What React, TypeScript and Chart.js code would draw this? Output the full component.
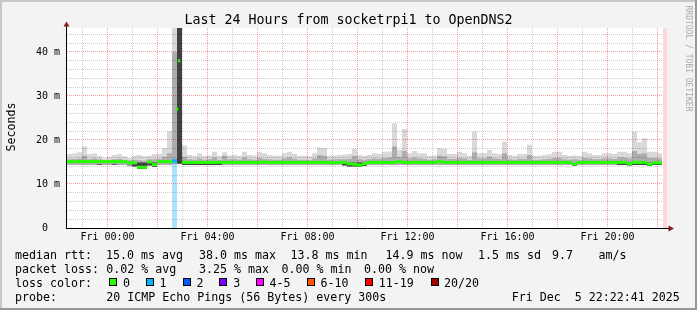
import React, { useEffect, useRef } from 'react';
import { Chart, registerables } from 'chart.js';

Chart.register(...registerables);

// ---- time axis (hours relative to Fri 00:00) ----
const START_HOUR = -1.6219; // Thu 22:22:41
const END_HOUR = 22.3781; // Fri 22:22:41
const STEP_HOURS = 0.2; // consolidated interval length
const NO_DATA_FROM_HOUR = 22.21;
const Y_MAX_MS = 45.45;

// ---- series (ms), one value per interval ----
const medianMs: (number | null)[] = [
  15.1, 15.1, 15.1, 15.1, 15.1, 15.1, 15.1, 15.1, 15.1, 15.1,
  15.1, 15.1, 14.8, 14.8, 13.8, 13.8, 15.0, 14.4, 15.1, 15.1,
  15.1, 15.3, null, 14.9, 14.9, 14.9, 14.9, 14.9, 14.9, 14.9,
  14.9, 14.9, 14.9, 14.9, 14.9, 14.9, 14.9, 14.9, 14.9, 15.0,
  14.9, 14.9, 14.9, 14.9, 14.9, 14.9, 14.9, 14.9, 14.9, 14.9,
  14.9, 14.9, 14.9, 14.8, 14.9, 14.9, 14.6, 14.5, 14.3, 14.6,
  14.9, 14.9, 14.9, 14.9, 14.9, 14.9, 15.1, 14.9, 14.9, 14.9,
  14.9, 14.9, 14.9, 14.9, 15.1, 14.9, 14.9, 14.9, 14.9, 14.9,
  14.9, 14.9, 14.9, 14.9, 14.9, 14.9, 14.9, 14.9, 14.9, 14.9,
  14.9, 14.9, 14.9, 14.9, 14.9, 14.9, 14.9, 14.9, 14.9, 14.9,
  14.9, 14.5, 14.9, 14.9, 14.9, 14.9, 14.9, 14.9, 14.9, 14.9,
  14.9, 14.9, 14.6, 14.9, 14.9, 14.9, 14.5, 14.8, 14.8,
];

const smokeLoMs = [
  14.3, 14.3, 14.3, 14.3, 14.3, 14.3, 14.3, 14.3, 14.3, 14.3,
  14.3, 14.3, 14.2, 14.0, 13.4, 13.4, 14.2, 13.9, 14.3, 14.3,
  14.3, 14.5, 14.6, 14.3, 14.3, 14.3, 14.3, 14.3, 14.3, 14.3,
  14.3, 14.3, 14.3, 14.3, 14.3, 14.3, 14.3, 14.3, 14.3, 14.3,
  14.3, 14.3, 14.3, 14.3, 14.3, 14.3, 14.3, 14.3, 14.3, 14.3,
  14.3, 14.3, 14.3, 14.3, 14.3, 14.2, 14.0, 14.0, 13.9, 14.1,
  14.3, 14.3, 14.3, 14.3, 14.3, 14.3, 14.3, 14.3, 14.3, 14.3,
  14.3, 14.3, 14.3, 14.3, 14.3, 14.3, 14.3, 14.3, 14.3, 14.3,
  14.3, 14.3, 14.3, 14.3, 14.3, 14.3, 14.3, 14.3, 14.3, 14.3,
  14.3, 14.3, 14.3, 14.3, 14.3, 14.3, 14.3, 14.3, 14.3, 14.3,
  14.3, 14.1, 14.3, 14.3, 14.3, 14.3, 14.3, 14.3, 14.3, 14.3,
  14.3, 14.3, 14.2, 14.3, 14.3, 14.3, 14.1, 14.3, 14.3,
];

const smokeDarkMs = [
  14.3, 14.3, 14.3, 14.3, 14.3, 14.3, 14.5, 14.3, 14.3, 14.5,
  14.3, 14.3, 14.3, 14.9, 14.9, 14.9, 14.9, 14.9, 14.3, 14.3,
  14.3, 14.5, 46.0, 14.8, 14.8, 14.8, 14.8, 14.8, 14.8, 14.8,
  14.8, 14.3, 14.3, 14.3, 14.3, 14.3, 14.3, 14.3, 14.3, 14.3,
  14.3, 14.3, 14.3, 14.3, 14.3, 14.3, 14.3, 14.3, 14.3, 14.3,
  14.3, 14.3, 14.3, 14.3, 14.3, 14.8, 14.9, 14.9, 14.9, 14.8,
  14.3, 14.3, 14.3, 14.3, 14.3, 14.3, 14.3, 14.3, 14.3, 14.3,
  14.3, 14.3, 14.3, 14.3, 14.3, 14.3, 14.3, 14.3, 14.3, 14.3,
  14.3, 14.3, 14.3, 14.3, 14.3, 14.3, 14.3, 14.3, 14.3, 14.3,
  14.3, 14.3, 14.3, 14.3, 14.3, 14.3, 14.3, 14.3, 14.3, 14.3,
  14.3, 14.6, 14.3, 14.3, 14.3, 14.3, 14.3, 14.3, 14.3, 14.3,
  14.8, 14.8, 14.8, 14.8, 14.8, 14.8, 14.8, 14.8, 14.8,
];

const smokeMidMs = [
  15.6, 15.7, 15.8, 16.4, 15.6, 15.8, 15.6, 15.4, 15.5, 15.6,
  15.7, 15.5, 15.4, 15.5, 15.4, 15.3, 15.6, 15.6, 15.7, 16.2,
  17.0, 40.0, 46.0, 16.2, 15.6, 15.5, 15.8, 15.5, 15.6, 16.0,
  15.5, 16.4, 15.6, 15.6, 15.5, 16.0, 15.6, 15.5, 15.9, 15.7,
  15.6, 15.5, 15.5, 15.8, 16.0, 15.7, 15.5, 15.5, 15.4, 15.8,
  16.6, 16.4, 15.5, 15.6, 15.6, 15.6, 15.7, 16.4, 15.6, 15.5,
  15.6, 15.8, 15.7, 15.9, 16.0, 18.5, 16.2, 17.5, 15.8, 16.0,
  15.8, 15.7, 15.5, 15.6, 16.5, 16.3, 15.7, 15.7, 15.9, 15.8,
  15.5, 17.2, 15.8, 15.8, 16.2, 15.8, 15.7, 17.0, 15.6, 15.5,
  15.7, 15.7, 16.6, 15.5, 15.5, 15.6, 15.7, 15.9, 15.9, 15.6,
  15.5, 15.6, 15.5, 15.9, 15.8, 15.6, 15.6, 15.8, 15.8, 15.7,
  16.0, 16.0, 15.8, 17.5, 16.8, 17.0, 15.9, 15.9, 15.8,
];

const smokeHiMs = [
  16.8, 17.0, 17.2, 18.6, 16.8, 17.0, 16.4, 15.9, 16.2, 16.6,
  16.8, 16.3, 15.9, 16.4, 16.6, 16.3, 16.4, 16.8, 16.9, 18.2,
  22.0, 46.0, 46.0, 18.8, 16.6, 16.4, 17.0, 16.4, 16.5, 17.3,
  16.4, 17.2, 16.5, 16.6, 16.4, 17.3, 16.6, 16.5, 17.3, 17.0,
  16.6, 16.4, 16.4, 17.0, 17.3, 16.8, 16.4, 16.4, 16.3, 17.0,
  18.3, 18.2, 16.4, 16.5, 16.6, 16.7, 16.8, 18.0, 16.6, 16.4,
  16.6, 17.0, 16.9, 17.3, 17.4, 23.8, 17.7, 22.5, 17.0, 17.5,
  17.0, 17.0, 16.4, 16.5, 18.1, 18.0, 16.8, 16.8, 17.3, 17.0,
  16.4, 21.9, 17.0, 17.0, 17.7, 17.0, 16.8, 19.6, 16.6, 16.4,
  16.8, 16.8, 18.9, 16.4, 16.4, 16.6, 16.8, 17.3, 17.3, 16.6,
  16.4, 16.5, 16.4, 17.3, 17.0, 16.6, 16.6, 17.0, 17.0, 16.8,
  17.3, 17.3, 17.0, 21.9, 19.5, 20.4, 17.3, 17.3, 17.0,
];

// intervals with packet loss (index into the series) and their loss class
const lossIntervalIdx = [21];
const lossIntervalClass = [1];

// 5-minute medians inside the spike interval
const spikeHours = [2.78, 2.86];
const spikeMs = [27, 38];

// ---- axes ----
const xGridHours = [-1, 0, 1, 2, 3, 4, 5, 6, 7, 8, 9, 10, 11, 12, 13, 14, 15, 16, 17, 18, 19, 20, 21, 22];
const xLabelHours = [0, 4, 8, 12, 16, 20];
const xLabels = ['Fri 00:00', 'Fri 04:00', 'Fri 08:00', 'Fri 12:00', 'Fri 16:00', 'Fri 20:00'];
const yGridMs = [0, 2, 4, 6, 8, 10, 12, 14, 16, 18, 20, 22, 24, 26, 28, 30, 32, 34, 36, 38, 40, 42, 44];
const yLabelMs = [0, 10, 20, 30, 40];
const yLabels = ['0  ', '10 m', '20 m', '30 m', '40 m'];

// ---- legend ----
const titleText = 'Last 24 Hours from socketrpi1 to OpenDNS2';
const yTitle = 'Seconds';
const watermark = 'RRDTOOL / TOBI OETIKER';
const rowLabels = ['median rtt:', 'packet loss:', 'loss color:', 'probe:'];
const rttStats = ['15.0 ms avg', '38.0 ms max', '13.8 ms min', '14.9 ms now', '1.5 ms sd', '9.7', 'am/s'];
const lossStats = ['0.02 % avg', '3.25 % max', '0.00 % min', '0.00 % now'];
const lossColorLabels = ['0', '1', '2', '3', '4-5', '6-10', '11-19', '20/20'];
const lossColors = ['#26ff00', '#00b8ff', '#0059ff', '#7e00ff', '#ff00ff', '#ff5500', '#ff0000', '#a10000'];
const probeText = '20 ICMP Echo Pings (56 Bytes) every 300s';
const stampText = 'Fri Dec  5 22:22:41 2025';

const MONO = '"DejaVu Sans Mono", monospace';

const intervalStart = (j: number) => START_HOUR + j * STEP_HOURS;

function stepSeries(values: number[]) {
  const pts = values.map((v, j) => ({ x: intervalStart(j), y: v }));
  pts.push({ x: intervalStart(values.length), y: values[values.length - 1] });
  return pts;
}

function lossClassAt(j: number) {
  const k = lossIntervalIdx.indexOf(j);
  return k >= 0 ? lossIntervalClass[k] : 0;
}

const decorPlugin = {
  id: 'rrdDecor',
  beforeDraw(chart: any) {
    const { ctx, width, height, chartArea } = chart;
    ctx.save();
    ctx.fillStyle = '#f3f3f3';
    ctx.fillRect(0, 0, width, height);
    ctx.fillStyle = '#ffffff';
    ctx.fillRect(chartArea.left, chartArea.top, chartArea.right - chartArea.left, chartArea.bottom - chartArea.top);
    ctx.fillStyle = '#c8c8c8';
    ctx.fillRect(0, 0, width, 2);
    ctx.fillRect(0, 0, 2, height);
    ctx.fillStyle = '#969696';
    ctx.fillRect(0, height - 2, width, 2);
    ctx.fillRect(width - 2, 0, 2, height);
    ctx.restore();
  },
  afterDatasetsDraw(chart: any) {
    const { ctx, chartArea } = chart;
    const { left, top, right, bottom } = chartArea;
    ctx.save();
    ctx.strokeStyle = '#000000';
    ctx.lineWidth = 1;
    ctx.beginPath();
    ctx.moveTo(left - 0.5, bottom + 1);
    ctx.lineTo(left - 0.5, top - 3);
    ctx.moveTo(left - 1, bottom + 0.5);
    ctx.lineTo(right + 2, bottom + 0.5);
    ctx.stroke();
    ctx.fillStyle = '#8b1a1a';
    ctx.beginPath();
    ctx.moveTo(left - 3.5, top - 1.5);
    ctx.lineTo(left + 2.5, top - 1.5);
    ctx.lineTo(left - 0.5, top - 6.5);
    ctx.closePath();
    ctx.fill();
    ctx.beginPath();
    ctx.moveTo(right + 1.5, bottom - 2.5);
    ctx.lineTo(right + 1.5, bottom + 3.5);
    ctx.lineTo(right + 7, bottom + 0.5);
    ctx.closePath();
    ctx.fill();
    ctx.restore();
  },
  afterDraw(chart: any) {
    const { ctx } = chart;
    ctx.save();
    ctx.fillStyle = '#000000';
    ctx.textBaseline = 'alphabetic';

    // title
    ctx.font = `13.3px ${MONO}`;
    ctx.textAlign = 'center';
    ctx.fillText(titleText, 348.5, 24);

    // y title
    ctx.save();
    ctx.font = `11.63px ${MONO}`;
    ctx.translate(15.3, 127);
    ctx.rotate(-Math.PI / 2);
    ctx.fillText(yTitle, 0, 0);
    ctx.restore();

    // watermark
    ctx.save();
    ctx.fillStyle = '#a8a8a8';
    ctx.font = `8px ${MONO}`;
    ctx.translate(686, 58.5);
    ctx.rotate(Math.PI / 2);
    ctx.fillText(watermark, 0, 0);
    ctx.restore();

    // legend
    ctx.textAlign = 'left';
    ctx.font = `11.63px ${MONO}`;
    const rows = [259, 273, 287, 301];
    rowLabels.forEach((t, i) => ctx.fillText(t, 15, rows[i]));
    const rttX = [106, 198.9, 290.4, 385.4, 478, 552, 598.5];
    rttStats.forEach((t, i) => ctx.fillText(t, rttX[i], rows[0]));
    const lossX = [106.2, 198.9, 281.5, 363.9];
    lossStats.forEach((t, i) => ctx.fillText(t, lossX[i], rows[1]));
    const swX = [109, 146, 183, 219, 256, 307, 365, 431];
    const swLabelX = [122.9, 159.4, 196.6, 233.2, 269.6, 320.6, 378.7, 443.9];
    lossColorLabels.forEach((t, i) => {
      ctx.fillStyle = lossColors[i];
      ctx.fillRect(swX[i], 278, 8, 8);
      ctx.strokeStyle = '#000000';
      ctx.lineWidth = 1;
      ctx.strokeRect(swX[i] + 0.5, 278.5, 7, 7);
      ctx.fillStyle = '#000000';
      ctx.fillText(t, swLabelX[i], rows[2]);
    });
    ctx.fillText(probeText, 106.2, rows[3]);
    ctx.fillText(stampText, 511.7, rows[3]);
    ctx.restore();
  },
};

export default function App() {
  const ref = useRef<HTMLCanvasElement | null>(null);

  useEffect(() => {
    const canvas = ref.current;
    if (!canvas) return;

    const medianPoints = medianMs.map((v, j) => ({ x: intervalStart(j) + STEP_HOURS / 2, y: v }));
    const lossBars = lossIntervalIdx.map((j) => ({
      type: 'line' as const,
      data: [
        { x: intervalStart(j), y: medianMs[j] as number },
        { x: intervalStart(j + 1), y: medianMs[j] as number },
      ],
      fill: 'origin',
      backgroundColor: 'rgba(0,170,250,0.33)',
      borderWidth: 0,
      borderColor: 'transparent',
      pointRadius: 0,
      order: 5,
    }));

    const chart = new Chart(canvas, {
      type: 'line',
      data: {
        datasets: [
          {
            data: stepSeries(smokeLoMs),
            stepped: true,
            borderWidth: 0,
            borderColor: 'transparent',
            pointRadius: 0,
            fill: false,
            order: 9,
          },
          {
            data: stepSeries(smokeHiMs),
            stepped: true,
            borderWidth: 0,
            borderColor: 'transparent',
            pointRadius: 0,
            fill: 0,
            backgroundColor: 'rgba(0,0,0,0.15)',
            order: 8,
          },
          {
            data: stepSeries(smokeMidMs),
            stepped: true,
            borderWidth: 0,
            borderColor: 'transparent',
            pointRadius: 0,
            fill: 0,
            backgroundColor: 'rgba(0,0,0,0.2)',
            order: 7,
          },
          {
            data: stepSeries(smokeDarkMs),
            stepped: true,
            borderWidth: 0,
            borderColor: 'transparent',
            pointRadius: 0,
            fill: 0,
            backgroundColor: 'rgba(0,0,0,0.62)',
            order: 6,
          },
          {
            data: [
              { x: NO_DATA_FROM_HOUR, y: Y_MAX_MS },
              { x: END_HOUR, y: Y_MAX_MS },
            ],
            fill: 'origin',
            backgroundColor: '#fdd8d8',
            borderWidth: 0,
            borderColor: 'transparent',
            pointRadius: 0,
            order: 10,
          },
          ...lossBars,
          {
            data: medianPoints,
            showLine: false,
            pointStyle: 'line',
            pointRadius: 2.5,
            pointBorderWidth: 3,
            pointBorderColor: (c: any) => lossColors[lossClassAt(c.dataIndex)],
            pointBackgroundColor: 'transparent',
            order: 2,
          },
          {
            data: spikeHours.map((h, k) => ({ x: h, y: spikeMs[k] })),
            showLine: false,
            pointStyle: 'line',
            pointRadius: 1.1,
            pointBorderWidth: 3,
            pointBorderColor: lossColors[0],
            order: 1,
          },
        ] as any,
      },
      options: {
        responsive: false,
        maintainAspectRatio: false,
        animation: false,
        devicePixelRatio: 1,
        events: [],
        layout: { padding: { left: 0, top: 28, right: 30, bottom: 62 } },
        plugins: { legend: { display: false }, tooltip: { enabled: false }, title: { display: false } },
        scales: {
          x: {
            type: 'linear',
            min: START_HOUR,
            max: END_HOUR,
            afterBuildTicks: (s: any) => {
              s.ticks = xGridHours.map((v) => ({ value: v }));
            },
            afterFit: (s: any) => {
              s.height = 20;
            },
            grid: {
              drawTicks: false,
              lineWidth: 1,
              color: (c: any) =>
                c.tick && Math.abs(c.tick.value % 2) === 0 ? 'rgba(255,0,0,0.4)' : 'rgba(0,0,0,0.2)',
            },
            border: { display: false, dash: [1, 1] },
            ticks: {
              autoSkip: false,
              maxRotation: 0,
              minRotation: 0,
              padding: 3,
              color: '#000000',
              font: { family: MONO, size: 10 },
              callback: (v: any) => {
                const k = xLabelHours.indexOf(Number(v));
                return k >= 0 ? xLabels[k] : '';
              },
            },
          },
          y: {
            type: 'linear',
            min: 0,
            max: Y_MAX_MS,
            afterBuildTicks: (s: any) => {
              s.ticks = yGridMs.map((v) => ({ value: v }));
            },
            afterFit: (s: any) => {
              s.width = 67;
            },
            grid: {
              drawTicks: false,
              lineWidth: 1,
              color: (c: any) => {
                const v = c.tick ? c.tick.value : 1;
                if (v === 0) return 'transparent';
                return v % 10 === 0 ? 'rgba(255,0,0,0.4)' : 'rgba(0,0,0,0.2)';
              },
            },
            border: { display: false, dash: [1, 1] },
            ticks: {
              autoSkip: false,
              padding: 7,
              color: '#000000',
              font: { family: MONO, size: 10 },
              callback: (v: any) => {
                const k = yLabelMs.indexOf(Number(v));
                return k >= 0 ? yLabels[k] : '';
              },
            },
          },
        },
      } as any,
      plugins: [decorPlugin],
    });

    return () => chart.destroy();
  }, []);

  return (
    <div style={{ position: 'fixed', left: 0, top: 0, width: 697, height: 310 }}>
      <canvas ref={ref} width={697} height={310} style={{ display: 'block', width: 697, height: 310 }} />
    </div>
  );
}
